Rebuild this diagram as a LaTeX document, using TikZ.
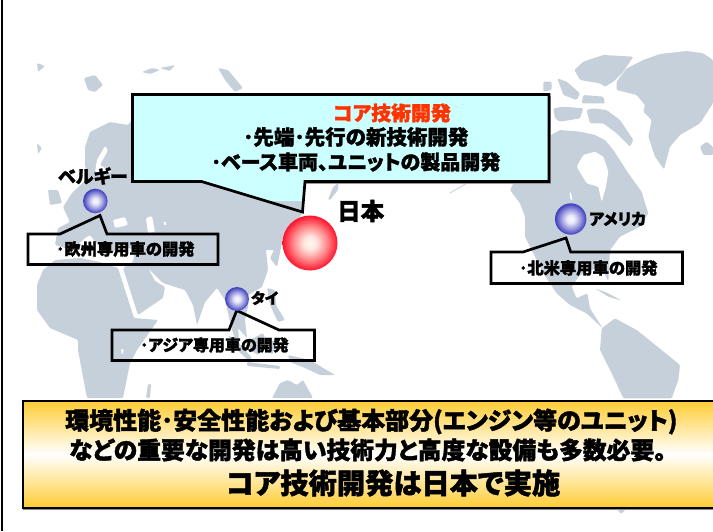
\documentclass[tikz,border=0pt]{standalone}
\usepackage{fontspec}
\newfontfamily\jpf{Noto Sans CJK JP}[RawFeature={+palt},BoldFeatures={FakeBold=1.6}]
\definecolor{mapgray}{HTML}{C6D0DA}
\definecolor{coreRed}{HTML}{FF3300}
\definecolor{paleCyan}{HTML}{CCFFFF}
\definecolor{gold}{HTML}{FFCC33}
\pgfdeclareradialshading{blueball}{\pgfpoint{0bp}{0bp}}{rgb(0bp)=(.97,.97,.99); rgb(6bp)=(.92,.92,.97); rgb(15bp)=(.62,.62,.88); rgb(25bp)=(.24,.24,.74); rgb(50bp)=(.24,.24,.74)}
\pgfdeclareradialshading{redball}{\pgfpoint{0bp}{0bp}}{rgb(0bp)=(1,.97,.93); rgb(6bp)=(1,.9,.88); rgb(15bp)=(1,.55,.55); rgb(25bp)=(1,.08,.18); rgb(50bp)=(1,.08,.18)}
\tikzset{
  land/.style={fill=mapgray,draw=none,rounded corners=1.2pt},
  sea/.style={fill=white,draw=none,rounded corners=1.2pt},
  callout/.style={draw=black,line width=2.7pt,line join=miter,miter limit=4},
  calloutshadow/.style={draw=black!40,line width=2.7pt,line join=miter,miter limit=4},
  jp/.style={inner sep=0pt,font=\jpf\bfseries\fontsize{#1}{#1}\selectfont},
  ball/.style={circle,inner sep=0pt,minimum size=#1}
}
\begin{document}
\begin{tikzpicture}[x=1pt,y=-1pt]
\useasboundingbox (0,0) rectangle (713,531);
\fill[white] (0,0) rectangle (713,531);
% Eurasia
\fill[land] (85,147)--(90,132)--(110,122)--(128,125)--(140,110)--(300,110)--(306,182)--(303,213)--(290,228)--(283,238)--(277,267)--(270,258)--(274,250)--(265,250)--(263,240)--(270,233)--(266,250)--(268,270)--(262,287)--(248,295)--(248,307)--(245,320)--(247,338)--(238,328)--(240,352)--(232,330)--(225,300)--(217,288)--(205,302)--(197,325)--(193,305)--(185,290)--(163,283)--(148,268)--(155,281)--(165,287)--(163,298)--(138,315)--(123,268)--(133,262)--(135,250)--(120,245)--(112,253)--(105,240)--(102,250)--(90,235)--(85,238)--(72,250)--(55,245)--(58,228)--(70,222)--(63,207)--(72,193)--(88,178)--(85,165)--cycle;
% Africa
\fill[land] (37,285)--(43,270)--(55,260)--(80,258)--(100,262)--(118,268)--(134,318)--(158,320)--(137,350)--(130,363)--(123,398)--(87,398)--(78,350)--(78,340)--(50,328)--(37,310)--cycle;
\fill[land] (146,398)--(148,384)--(151,384)--(150,398)--cycle;
% islands of the old world
\fill[land] (48,190)--(58,190)--(62,203)--(50,205)--cycle;
\fill[land] (37,63)--(45,66)--(38,72)--cycle;
\fill[land] (37,143)--(42,148)--(38,154)--cycle;
\fill[land] (84,78)--(95,75)--(103,85)--(95,92)--(88,90)--cycle;
\fill[land] (142,72)--(152,68)--(160,70)--(150,74)--cycle;
\fill[land] (160,68)--(175,65)--(170,71)--cycle;
\fill[land] (218,68)--(228,70)--(243,88)--(235,92)--(225,80)--cycle;
\fill[land] (328,200)--(333,187)--(338,183)--(338,190)--(330,200)--cycle;
\fill[land] (228,335)--(236,340)--(252,358)--(248,360)--(235,348)--cycle;
\fill[land] (250,340)--(263,333)--(268,345)--(258,355)--(250,350)--cycle;
\fill[land] (247,362)--(280,366)--(280,369)--(247,366)--cycle;
\fill[land] (270,340)--(277,342)--(272,355)--(268,350)--cycle;
\fill[land] (288,355)--(310,360)--(335,375)--(320,375)--(305,368)--(290,362)--cycle;
\fill[land] (267,288)--(275,290)--(276,305)--(285,320)--(278,322)--(270,305)--cycle;
\fill[land] (272,398)--(280,383)--(288,380)--(297,385)--(303,380)--(313,398)--cycle;
% inland seas
\fill[sea] (113,220)--(125,217)--(128,225)--(115,228)--cycle;
\fill[sea] (146,218)--(152,216)--(155,232)--(148,233)--cycle;
\fill[sea] (163,221)--(167,223)--(165,226)--cycle;
\fill[sea] (105,146)--(108,150)--(100,165)--(112,172)--(95,172)--(97,160)--cycle;
\fill[sea] (121,349)--(124,349)--(122,355)--cycle;
% the new world
\begin{scope}[shift={(480,40)},x=.33333pt,y=-.33333pt]
\fill[land] (410,125)--(440,85)--(490,60)--(540,42)--(620,33)--(670,40)--(699,60)--(699,190)--(660,250)--(600,285)--(570,320)--(552,388)--(525,350)--(505,290)--(515,240)--(490,215)--(495,195)--(470,165)--(410,150)--cycle;
\fill[land] (283,90)--(310,65)--(370,45)--(460,50)--(430,95)--(400,125)--(375,140)--(360,130)--(300,120)--cycle;
\fill[land] (310,165)--(370,170)--(375,190)--(305,190)--cycle;
\fill[land] (232,115)--(260,125)--(300,160)--(290,180)--(250,165)--cycle;
\fill[land] (190,125)--(215,125)--(215,150)--(190,155)--cycle;
\fill[land] (220,205)--(250,200)--(310,205)--(300,235)--(240,245)--(225,235)--cycle;
\fill[land] (320,210)--(340,205)--(380,210)--(420,240)--(460,300)--(450,320)--(410,280)--(370,250)--(330,250)--cycle;
\fill[land] (660,320)--(680,305)--(699,320)--(699,345)--(670,345)--cycle;
\fill[land] (205,290)--(240,270)--(300,275)--(345,285)--(375,300)--(400,330)--(445,400)--(485,455)--(495,490)--(505,520)--(480,560)--(420,590)--(390,630)--(385,725)--(365,680)--(335,690)--(300,705)--(275,740)--(290,775)--(322,760)--(330,805)--(368,865)--(320,820)--(270,795)--(230,760)--(190,700)--(150,620)--(135,590)--(135,530)--(120,490)--(90,450)--(100,430)--cycle;
\fill[sea] (290,380)--(310,345)--(345,335)--(370,350)--(385,395)--(378,440)--(365,485)--(355,440)--(320,430)--cycle;
\fill[sea] (268,455)--(273,458)--(278,482)--(272,480)--cycle;
\fill[land] (345,745)--(385,760)--(425,782)--(385,770)--cycle;
\fill[land] (365,865)--(405,835)--(470,870)--(520,910)--(600,975)--(595,1020)--(575,1075)--(430,1075)--(400,1010)--(360,930)--cycle;
\end{scope}
\fill[land] (617,509)--(626,509)--(621,514)--cycle;
\draw[mapgray,line width=.8pt] (450,193)--(467,183);
% frame
\draw[black,line width=2.4pt] (2,0)--(2,531);
% main callout
\fill[paleCyan] (132.5,94.5)--(549,94.5)--(549,181.5)--(305,181.5)--(304,201)--(263,201)--(201.5,181.5)--(132.5,181.5)--cycle;
\draw[calloutshadow] (550,96)--(550,182.5)--(306,182.5);
\draw[callout] (132.5,94.5)--(549,94.5)--(549,181.5)--(305,181.5)--(302.5,212)--(201.5,181.5)--(132.5,181.5)--cycle;
% regional callouts
\draw[callout] (28,234)--(60,234)--(100,215.5)--(107,234)--(218,234)--(218,264.5)--(28,264.5)--cycle;
\draw[callout] (491,252)--(523,252)--(566,238)--(570.7,252)--(682.5,252)--(682.5,283.5)--(491,283.5)--cycle;
\draw[callout] (112,330)--(229,330)--(236.7,310.5)--(279,330)--(314.5,330)--(314.5,360.5)--(112,360.5)--cycle;
% balls
\node[ball=24.6pt,shading=blueball] (belgium) at (95.3,201) {};
\node[ball=55pt,shading=redball] (japan) at (310,243) {};
\node[ball=24pt,shading=blueball] (thai) at (237,299) {};
\node[ball=31.4pt,shading=blueball] (usa) at (570.7,219) {};
% bottom panel
\fill[black!45] (23,402) rectangle (720,509.5);
\node[draw=black,line width=2pt,rectangle,inner sep=0pt,anchor=north west,minimum width=710pt,minimum height=107.5pt,top color=gold,bottom color=gold,middle color=white] (panel) at (22,399.5) {};
% texts
\node[jp=19.9,text=coreRed,anchor=west] (t1) at (333,113) {コア技術開発};
\node[jp=20.5,anchor=west] (t2) at (243,137) {･先端･先行の新技術開発};
\node[jp=20,anchor=west] (t3) at (211,162) {･ベース車両、ユニットの製品開発};
\node[jp=23.5,anchor=west] (tjapan) at (337,211) {日本};
\node[jp=18,anchor=west] (tbel) at (58,176) {ベルギー};
\node[jp=15,anchor=west] (tthai) at (251,298) {タイ};
\node[jp=16,anchor=west] (tusa) at (589,219) {アメリカ};
\node[jp=16.3,anchor=west] (teu) at (56,249) {･欧州専用車の開発};
\node[jp=16,anchor=west] (tas) at (140,345) {･アジア専用車の開発};
\node[jp=16.3,anchor=west] (tna) at (519,268) {･北米専用車の開発};
\node[jp=24,anchor=west] (b1) at (65,421.5) {環境性能･安全性能および基本部分(エンジン等のユニット)};
\node[jp=23.8,anchor=west] (b2) at (69,450) {などの重要な開発は高い技術力と高度な設備も多数必要。};
\node[jp=28.3,anchor=west] (b3) at (226,483) {コア技術開発は日本で実施};
\end{tikzpicture}
\end{document}
